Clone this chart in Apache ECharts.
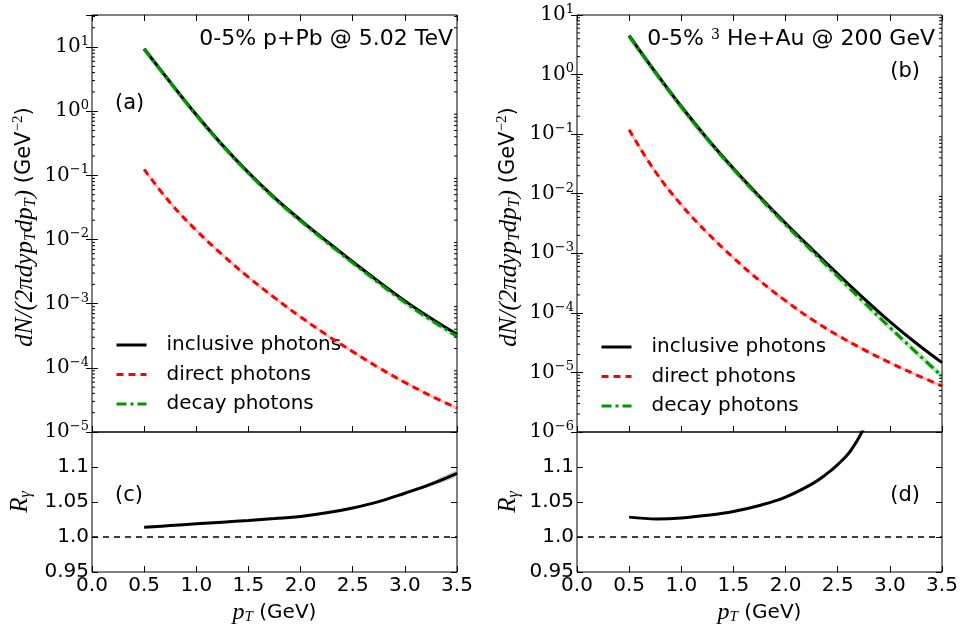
<!DOCTYPE html>
<html><head><meta charset="utf-8">
<script src="https://cdn.jsdelivr.net/npm/echarts@6/dist/echarts.min.js"></script>
<style>html,body{margin:0;padding:0;background:#fff}#c{width:966px;height:633px}</style>
</head><body><div id="c"></div>
<script>
// ---------- data ----------
const pT = [0.5, 0.75, 1.0, 1.25, 1.5, 1.75, 2.0, 2.25, 2.5, 2.75, 3.0, 3.25, 3.5];
// panel (a): 0-5% p+Pb @ 5.02 TeV
const inclusiveA = [9.42, 2.84, 0.879, 0.298, 0.1107, 0.0451, 0.0201, 0.00942, 0.00451, 0.00221, 0.001107, 5.94e-4, 3.34e-4];
const directA    = [0.1239, 0.0374, 0.0139, 0.00579, 0.00259, 0.00124, 6.21e-4, 3.26e-4, 1.79e-4, 1.007e-4, 5.93e-5, 3.66e-5, 2.36e-5];
const decayA     = [9.30, 2.80, 0.865, 0.292, 0.1081, 0.0439, 0.01948, 0.00909, 0.00433, 0.00211, 0.001048, 5.57e-4, 3.10e-4];
// panel (b): 0-5% 3He+Au @ 200 GeV
const inclusiveB = [4.51, 1.107, 0.291, 0.0839, 0.02655, 0.00899, 0.00319, 0.001186, 4.51e-4, 1.754e-4, 7.14e-5, 3.12e-5, 1.459e-5];
const directB    = [0.1183, 0.0236, 0.0065, 0.0022, 8.38e-4, 3.49e-4, 1.596e-4, 7.82e-5, 4.2e-5, 2.415e-5, 1.455e-5, 9.18e-6, 5.93e-6];
const decayB     = [4.39, 1.083, 0.2845, 0.0817, 0.02571, 0.00864, 0.00303, 0.001108, 4.09e-4, 1.51e-4, 5.69e-5, 2.2e-5, 8.66e-6];
// panel (c): R_gamma p+Pb, with uncertainty band
const rC     = [1.0139, 1.0163, 1.0188, 1.0212, 1.0236, 1.0263, 1.0293, 1.0345, 1.0415, 1.0505, 1.0625, 1.0755, 1.091];
const rCLow  = [1.0135, 1.0159, 1.0184, 1.0208, 1.0231, 1.0257, 1.0286, 1.0336, 1.0403, 1.0489, 1.0603, 1.0725, 1.0865];
const rCHigh = [1.0143, 1.0167, 1.0192, 1.0216, 1.0241, 1.0269, 1.0300, 1.0354, 1.0427, 1.0521, 1.0647, 1.0785, 1.0955];
// panel (d): R_gamma 3He+Au
const pTd = [0.5, 0.77, 1.0, 1.25, 1.5, 1.75, 2.0, 2.25, 2.375, 2.5, 2.625, 2.75, 2.875, 3.0];
const rD  = [1.0284, 1.0258, 1.0272, 1.031, 1.0365, 1.045, 1.057, 1.0755, 1.088, 1.1035, 1.1235, 1.155, 1.2, 1.26];
const rRef = [1.0];
// tick labels
const xTickLabels = ['0.0', '0.5', '1.0', '1.5', '2.0', '2.5', '3.0', '3.5'];
const rTickLabels = ['0.95', '1.0', '1.05', '1.1', ''];
const seriesNames = ['inclusive photons', 'direct photons', 'decay photons'];
const titleA = '0-5% p+Pb @ 5.02 TeV';
const panelTags = ['(a)', '(b)', '(c)', '(d)'];

// ---------- styling helpers ----------
const SANS = 'DejaVu Sans';
const SERIF = 'Liberation Serif';
const NUMSERIF = 'DejaVu Serif';
const pairs = (xs, ys) => xs.map((x, i) => [x, ys[i]]);
const tick = (len) => ({ show: true, inside: true, length: len, lineStyle: { color: '#000', width: 1 } });

function logFmt(v) {
  const l = Math.log10(v);
  const e = Math.round(l);
  if (Math.abs(l - e) > 0.01) return '';
  const s = e < 0 ? '\u2212' + (-e) : '' + e;
  return '{b|10}{s|' + s + '}';
}
const logRich = {
  b: { fontFamily: NUMSERIF, fontSize: 20, lineHeight: 24, verticalAlign: 'middle', color: '#000' },
  s: { fontFamily: NUMSERIF, fontSize: 13, lineHeight: 12, verticalAlign: 'top', color: '#000' }
};
function xAxisDef(grid, pos, labels) {
  const ax = {
    gridIndex: grid, type: 'value', min: 0, max: 3.5, interval: 0.5, position: pos,
    axisLine: { show: false }, axisTick: tick(6), splitLine: { show: false },
    axisLabel: { show: false }
  };
  if (labels) {
    ax.axisLabel = {
      show: true, margin: 4, fontFamily: SANS, fontSize: 20, color: '#000',
      formatter: v => xTickLabels[Math.round(v / 0.5)]
    };
    ax.name = '{p|p}{t|T}{n| (GeV)}';
    ax.nameLocation = 'middle';
    ax.nameGap = 29;
    ax.nameTextStyle = {
      rich: {
        p: { fontFamily: SERIF, fontStyle: 'italic', fontSize: 24, lineHeight: 24, verticalAlign: 'middle', color: '#000' },
        t: { fontFamily: SERIF, fontStyle: 'italic', fontSize: 15, lineHeight: 10, verticalAlign: 'bottom', color: '#000' },
        n: { fontFamily: SANS, fontSize: 20, lineHeight: 24, verticalAlign: 'middle', color: '#000' }
      }
    };
  }
  return ax;
}
function logAxisDef(grid, pos, min, max, labels) {
  return {
    gridIndex: grid, type: 'log', logBase: 10, min: min, max: max, position: pos,
    axisLine: { show: false }, axisTick: tick(6), splitLine: { show: false }, minorTick: { show: false },
    axisLabel: labels ? { show: true, margin: 3, formatter: logFmt, rich: logRich, showMinLabel: true, showMaxLabel: true } : { show: false }
  };
}
function rAxisDef(grid, pos, labels) {
  return {
    gridIndex: grid, type: 'value', min: 0.95, max: 1.15, interval: 0.05, position: pos,
    axisLine: { show: false }, axisTick: tick(6), splitLine: { show: false },
    axisLabel: labels ? {
      show: true, margin: 3, fontFamily: SANS, fontSize: 20, color: '#000', showMinLabel: true,
      formatter: v => rTickLabels[Math.round((v - 0.95) / 0.05)]
    } : { show: false }
  };
}
// minor ticks on log axes (axis decoration, drawn through the axis scale)
function minorTickValues(eMin, eMax, top) {
  const out = [];
  for (let e = eMin; e <= eMax; e++) for (let k = 2; k <= 9; k++) { const v = k * Math.pow(10, e); if (v < top) out.push([1, v]); }
  return out;
}
function minorTickSeries(xi, yi, vals) {
  return {
    type: 'custom', xAxisIndex: xi, yAxisIndex: yi, silent: true, clip: false, z: 5,
    data: vals,
    renderItem: function (params, api) {
      const v = api.value(1);
      const pL = api.coord([0, v]);
      const pR = api.coord([3.5, v]);
      return { type: 'group', children: [
        { type: 'line', shape: { x1: pL[0], y1: pL[1], x2: pL[0] + 3, y2: pL[1] }, style: { stroke: '#000', lineWidth: 1 } },
        { type: 'line', shape: { x1: pR[0] - 3, y1: pR[1], x2: pR[0], y2: pR[1] }, style: { stroke: '#000', lineWidth: 1 } }
      ] };
    }
  };
}
function bandSeries(xi, yi, xs, lo, hi) {
  return {
    type: 'custom', xAxisIndex: xi, yAxisIndex: yi, silent: true, z: 1,
    data: [[xs[0], lo[0]]],
    renderItem: function (params, api) {
      const pts = [];
      for (let i = 0; i < xs.length; i++) pts.push(api.coord([xs[i], hi[i]]));
      for (let i = xs.length - 1; i >= 0; i--) pts.push(api.coord([xs[i], lo[i]]));
      return { type: 'polygon', shape: { points: pts, smooth: 0.2 }, style: { fill: 'rgba(150,150,150,0.45)' } };
    }
  };
}
const RED = '#ff0000', GREEN = '#009600';
function spectrumSeries(xi, yi, inc, dir, dec) {
  return [
    { name: 'decay band', type: 'line', xAxisIndex: xi, yAxisIndex: yi, data: pairs(pT, dec), smooth: 0.4, symbol: 'none', silent: true,
      lineStyle: { color: 'rgba(0,150,0,0.22)', width: 5 }, z: 2 },
    { name: 'direct band', type: 'line', xAxisIndex: xi, yAxisIndex: yi, data: pairs(pT, dir), smooth: 0.4, symbol: 'none', silent: true,
      lineStyle: { color: 'rgba(255,0,0,0.25)', width: 2.5 }, z: 2 },
    { name: seriesNames[0], type: 'line', xAxisIndex: xi, yAxisIndex: yi, data: pairs(pT, inc), smooth: 0.4, symbol: 'none',
      itemStyle: { color: '#000' }, lineStyle: { color: '#000', width: 3 }, z: 3 },
    { name: seriesNames[1], type: 'line', xAxisIndex: xi, yAxisIndex: yi, data: pairs(pT, dir), smooth: 0.4, symbol: 'none',
      itemStyle: { color: RED }, lineStyle: { color: RED, width: 3, type: [7, 5] }, z: 4 },
    { name: seriesNames[2], type: 'line', xAxisIndex: xi, yAxisIndex: yi, data: pairs(pT, dec), smooth: 0.4, symbol: 'none',
      itemStyle: { color: GREEN }, lineStyle: { color: GREEN, width: 3, type: [10, 4, 3, 4] }, z: 4 }
  ];
}
function rSeries(xi, yi, xs, ys) {
  return {
    name: 'R', type: 'line', xAxisIndex: xi, yAxisIndex: yi, data: pairs(xs, ys), smooth: 0.4, symbol: 'none',
    lineStyle: { color: '#000', width: 3 }, z: 3,
    markLine: {
      silent: true, symbol: 'none', label: { show: false },
      lineStyle: { color: '#000', width: 1.5, type: [6, 5] },
      data: rRef.map(v => ({ yAxis: v }))
    }
  };
}
const legendBase = (left, top) => ({
  data: seriesNames, orient: 'vertical', left: left, top: top, padding: 0,
  itemWidth: 30, itemHeight: 12, itemGap: 9.5, selectedMode: false,
  itemStyle: { opacity: 0 }, lineStyle: { width: 3 },
  textStyle: { fontFamily: SANS, fontSize: 20, color: '#000', lineHeight: 20, padding: [0, 0, 0, 15] }
});
const gridStyle = { show: true, borderColor: '#000', borderWidth: 1, backgroundColor: 'transparent' };

const yTitleRich = {
  m: { fontFamily: SERIF, fontStyle: 'italic', fontSize: 25, lineHeight: 28, verticalAlign: 'middle', fill: '#000' },
  t: { fontFamily: SERIF, fontStyle: 'italic', fontSize: 16, lineHeight: 11, verticalAlign: 'bottom', fill: '#000' },
  n: { fontFamily: SANS, fontSize: 21, lineHeight: 28, verticalAlign: 'middle', fill: '#000' },
  s: { fontFamily: SERIF, fontSize: 15, lineHeight: 12, verticalAlign: 'top', fill: '#000' }
};

const option = {
  animation: false,
  backgroundColor: '#fff',
  grid: [
    Object.assign({ left: 92, top: 15, width: 365, height: 417 }, gridStyle),
    Object.assign({ left: 92, top: 432, width: 365, height: 140 }, gridStyle),
    Object.assign({ left: 577, top: 15, width: 365, height: 417 }, gridStyle),
    Object.assign({ left: 577, top: 432, width: 365, height: 140 }, gridStyle)
  ],
  xAxis: [
    xAxisDef(0, 'bottom', false), xAxisDef(0, 'top', false), xAxisDef(1, 'bottom', true),
    xAxisDef(2, 'bottom', false), xAxisDef(2, 'top', false), xAxisDef(3, 'bottom', true)
  ],
  yAxis: [
    logAxisDef(0, 'left', 1e-5, 31.62, true), logAxisDef(0, 'right', 1e-5, 31.62, false),
    rAxisDef(1, 'left', true), rAxisDef(1, 'right', false),
    logAxisDef(2, 'left', 1e-6, 10, true), logAxisDef(2, 'right', 1e-6, 10, false),
    rAxisDef(3, 'left', true), rAxisDef(3, 'right', false)
  ],
  legend: [legendBase(115, 335), legendBase(600, 337)],
  series: [].concat(
    spectrumSeries(0, 0, inclusiveA, directA, decayA),
    spectrumSeries(3, 4, inclusiveB, directB, decayB),
    [bandSeries(2, 2, pT, rCLow, rCHigh), rSeries(2, 2, pT, rC), rSeries(5, 6, pTd, rD),
     minorTickSeries(0, 0, minorTickValues(-5, 1, 31.62)),
     minorTickSeries(3, 4, minorTickValues(-6, 0, 10))]
  ),
  graphic: [
    { type: 'text', x: 453, y: 39, style: { text: titleA, fontFamily: SANS, fontSize: 22, fill: '#000', align: 'right', verticalAlign: 'middle' } },
    { type: 'text', x: 935, y: 39, style: {
        text: '0-5% {s|3} He+Au @ 200 GeV', fontFamily: SANS, fontSize: 22, fill: '#000', align: 'right', verticalAlign: 'middle',
        rich: { s: { fontFamily: NUMSERIF, fontSize: 14, lineHeight: 12, verticalAlign: 'top' } } } },
    { type: 'text', x: 115, y: 104, style: { text: panelTags[0], fontFamily: SANS, fontSize: 21, fill: '#000', align: 'left', verticalAlign: 'middle' } },
    { type: 'text', x: 920, y: 72, style: { text: panelTags[1], fontFamily: SANS, fontSize: 21, fill: '#000', align: 'right', verticalAlign: 'middle' } },
    { type: 'text', x: 115, y: 496, style: { text: panelTags[2], fontFamily: SANS, fontSize: 21, fill: '#000', align: 'left', verticalAlign: 'middle' } },
    { type: 'text', x: 920, y: 496, style: { text: panelTags[3], fontFamily: SANS, fontSize: 21, fill: '#000', align: 'right', verticalAlign: 'middle' } },
    // y-axis titles
    ...[[25, 227], [509, 227]].map(p => ({
      type: 'text', x: p[0], y: p[1], rotation: Math.PI / 2,
      style: {
        text: '{m|dN/(2\u03C0dyp}{t|T}{m|dp}{t|T}{m|)}  {n|(GeV}{s|\u22122}{n|)}',
        align: 'center', verticalAlign: 'middle', rich: yTitleRich
      }
    })),
    ...[[20, 502], [508, 502]].map(p => ({
      type: 'text', x: p[0], y: p[1], rotation: Math.PI / 2,
      style: {
        text: '{m|R}{t|\u03B3}', align: 'center', verticalAlign: 'middle',
        rich: {
          m: { fontFamily: SERIF, fontStyle: 'italic', fontSize: 25, lineHeight: 28, verticalAlign: 'middle', fill: '#000' },
          t: { fontFamily: SERIF, fontStyle: 'italic', fontSize: 16, lineHeight: 11, verticalAlign: 'bottom', fill: '#000' }
        }
      }
    }))
  ]
};
const chart = echarts.init(document.getElementById('c'), null, { renderer: 'canvas' });
chart.setOption(option);
</script>
</body></html>
